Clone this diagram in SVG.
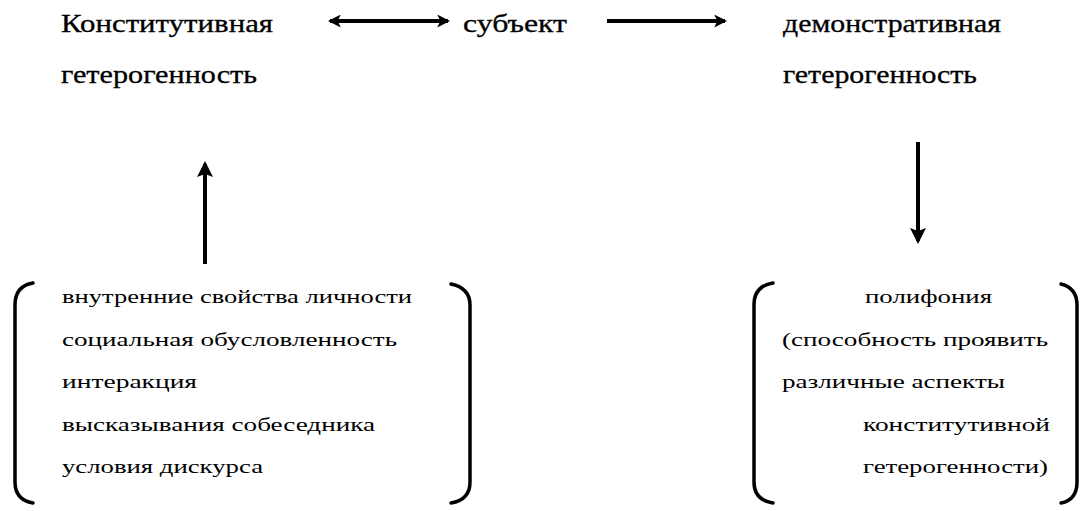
<svg xmlns="http://www.w3.org/2000/svg" width="1080" height="511" viewBox="0 0 1080 511">
  <style>
    .title { font-family: "Liberation Serif", "DejaVu Serif", serif; font-size: 25px; fill: #000; stroke: #000; stroke-width: 0.3; }
    .item { font-family: "Liberation Serif", "DejaVu Serif", serif; font-size: 19px; fill: #000; }
    .link { stroke: #000; stroke-width: 4; fill: none; }
    .vlink { stroke: #000; stroke-width: 4; fill: none; }
    .bracket { stroke: #000; stroke-width: 3.5; fill: none; stroke-linecap: round; }
  </style>
  <defs>
    <marker id="head" viewBox="0 0 12 12" refX="10" refY="6" markerWidth="13" markerHeight="13" markerUnits="userSpaceOnUse" orient="auto-start-reverse">
      <path d="M0,0 L12,6 L0,12 L3,6 Z" fill="#000"/>
    </marker>
    <marker id="vhead" viewBox="0 0 16 16" refX="13" refY="8" markerWidth="16" markerHeight="16" markerUnits="userSpaceOnUse" orient="auto">
      <path d="M0,0 L16,8 L0,16 L3,8 Z" fill="#000"/>
    </marker>
  </defs>

  <!-- connectors -->
  <g id="connectors">
    <line class="link" x1="330" y1="21" x2="448" y2="21" marker-start="url(#head)" marker-end="url(#head)"/>
    <line class="link" x1="607" y1="21" x2="725" y2="21" marker-end="url(#head)"/>
    <line class="vlink" x1="205" y1="264" x2="205" y2="164" marker-end="url(#vhead)"/>
    <line class="vlink" x1="918" y1="142" x2="918" y2="241" marker-end="url(#vhead)"/>
  </g>

  <g id="node-constitutive">
    <text class="title" x="61" y="32" textLength="212" lengthAdjust="spacingAndGlyphs">Конститутивная</text>
    <text class="title" x="61" y="83" textLength="196" lengthAdjust="spacingAndGlyphs">гетерогенность</text>
  </g>

  <g id="node-subject">
    <text class="title" x="463" y="32" textLength="104" lengthAdjust="spacingAndGlyphs">субъект</text>
  </g>

  <g id="node-demonstrative">
    <text class="title" x="783" y="32" textLength="218" lengthAdjust="spacingAndGlyphs">демонстративная</text>
    <text class="title" x="783" y="83" textLength="194" lengthAdjust="spacingAndGlyphs">гетерогенность</text>
  </g>

  <g id="node-factors">
    <path class="bracket" d="M33,283 Q15,286 15,305 L15,482 Q15,500 33,503"/>
    <path class="bracket" d="M451,284 Q470,288 470,305 L470,482 Q470,500 451,503"/>
    <text class="item" x="62" y="303" textLength="350" lengthAdjust="spacingAndGlyphs">внутренние свойства личности</text>
    <text class="item" x="62" y="345.5" textLength="335" lengthAdjust="spacingAndGlyphs">социальная обусловленность</text>
    <text class="item" x="62" y="388" textLength="135" lengthAdjust="spacingAndGlyphs">интеракция</text>
    <text class="item" x="62" y="430.5" textLength="313" lengthAdjust="spacingAndGlyphs">высказывания собеседника</text>
    <text class="item" x="62" y="473" textLength="201" lengthAdjust="spacingAndGlyphs">условия дискурса</text>
  </g>

  <g id="node-polyphony">
    <path class="bracket" d="M773,283 Q754,286 754,305 L754,482 Q754,500 773,503"/>
    <path class="bracket" d="M1061,284 Q1077,288 1077,305 L1077,482 Q1077,500 1061,503"/>
    <text class="item" x="865" y="303" textLength="127" lengthAdjust="spacingAndGlyphs">полифония</text>
    <text class="item" x="782" y="345.5" textLength="266" lengthAdjust="spacingAndGlyphs">(способность проявить</text>
    <text class="item" x="782" y="388" textLength="223" lengthAdjust="spacingAndGlyphs">различные аспекты</text>
    <text class="item" x="863" y="430.5" textLength="187" lengthAdjust="spacingAndGlyphs">конститутивной</text>
    <text class="item" x="863" y="473" textLength="185" lengthAdjust="spacingAndGlyphs">гетерогенности)</text>
  </g>
</svg>
